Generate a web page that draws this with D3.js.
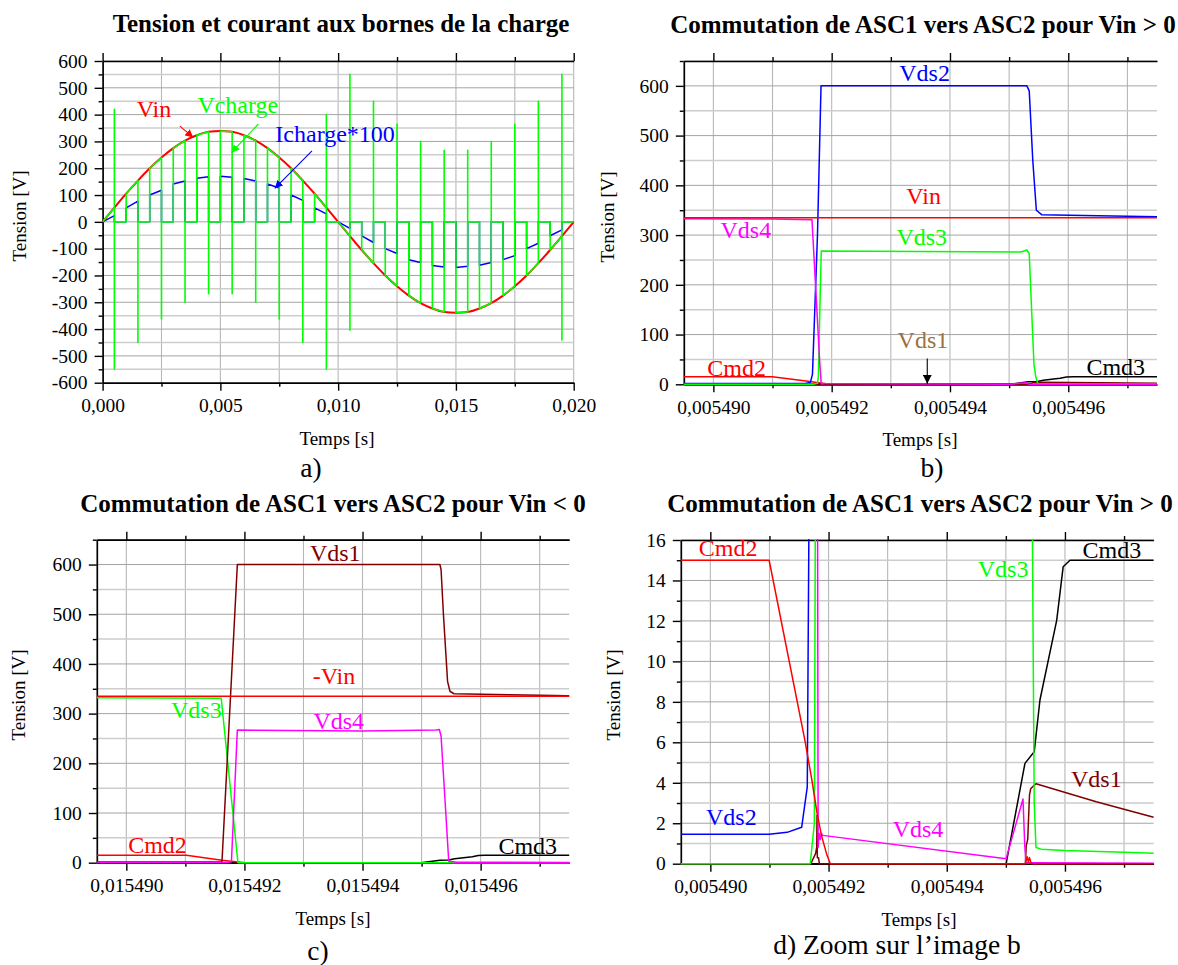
<!DOCTYPE html>
<html>
<head>
<meta charset="utf-8">
<script src="https://cdn.jsdelivr.net/npm/d3@7"></script>
<style>
  body { margin: 0; background: #fff; }
  svg text { font-family: "Liberation Serif", "Times New Roman", serif; }
</style>
</head>
<body>
<script>
// ---------- panel a : one mains period, time in ms ----------
var tA = [0, 0.5, 1, 1.5, 2, 2.5, 3, 3.5, 4, 4.5, 5, 5.5, 6, 6.5, 7, 7.5, 8, 8.5, 9, 9.5,
          10, 10.5, 11, 11.5, 12, 12.5, 13, 13.5, 14, 14.5, 15, 15.5, 16, 16.5, 17, 17.5, 18, 18.5, 19, 19.5, 20];
var vinA = [0, 53, 105, 154, 200, 240, 275, 303, 323, 336, 339, 336, 323, 303, 275, 240, 200, 154, 105, 53,
            0, -53, -105, -154, -200, -240, -275, -303, -323, -336, -339, -336, -323, -303, -275, -240, -200, -154, -105, -53, 0];
// load current*100 at start / end of every conduction interval
var iOnA  = [0, 52, 100, 141, 163, 170, 162, 141, 100, 52, 0, -52, -100, -141, -163, -170, -162, -141, -100, -52];
var iOffA = [23, 77, 118, 152, 168, 166, 152, 126, 80, 30, -24, -77, -118, -152, -168, -166, -152, -126, -80, -30];
// Vcharge overshoot at each turn-off (top / bottom of the spike)
var spikeHiA = [420, 154, 240, 303, 336, 336, 303, 240, 154, 400, 550, 450, 364, 300, 267, 267, 300, 364, 450, 550];
var spikeLoA = [-550, -450, -362, -300, -268, -268, -300, -362, -450, -550, -404, -154, -240, -303, -336, -336, -303, -240, -154, -441];

// ---------- panels b and d : commutation at t = 0,005490 s + t (µs) ----------
var baseBD = 0.005490;
var vinB_t  = [-0.5, 7.5];
var vinB_v  = [335, 335];
var vds2B_t = [-0.5, 0.995, 1.30, 1.545, 1.64, 1.675, 1.76, 1.82, 5.30, 5.34, 5.40, 5.46, 5.55, 6.5, 7.5];
var vds2B_v = [1.45, 1.45, 1.55, 1.8, 3.8, 20, 300, 600, 600, 590, 450, 350, 341, 339, 337];
var vds3B_t = [-0.5, 1.69, 1.76, 1.775, 1.80, 1.824, 3.5, 5.20, 5.30, 5.34, 5.38, 5.42, 5.45, 5.48, 5.51, 5.6, 6.0, 7.0, 7.5];
var vds3B_v = [0, 0, 2, 16, 150, 268, 267, 266, 270, 262, 150, 40, 16, 3, 0.8, 0.72, 0.65, 0.57, 0.52];
var vds4B_t = [-0.5, 1.0, 1.667, 1.80, 1.815, 1.824, 1.84, 1.86, 1.88, 1.90, 5.005, 5.29, 5.32, 5.34, 5.5, 7.5];
var vds4B_v = [333, 332.5, 331, 40, 16, 0.8, 1.5, 1.2, 1.5, 1.4, 0.25, 3.2, 0.9, 0.05, 0.05, 0.02];
var vds1B_t = [-0.5, 1.70, 1.78, 1.80, 1.805, 1.81, 1.83, 1.845, 5.33, 5.345, 5.37, 5.40, 5.42, 5.47, 5.51, 6.53, 7.5];
var vds1B_v = [0, 0, 0.5, 0.8, 2.4, 0.3, 0.3, 0, 0, 0.9, 1.2, 3.4, 3.7, 3.85, 3.95, 3.06, 2.3];
var cmd2B_t = [-0.5, 0.995, 1.60, 1.72, 1.80, 1.88, 1.97, 2.03, 5.33, 5.36, 5.38, 5.40, 5.43, 7.5];
var cmd2B_v = [15, 15, 6.1, 4.1, 2.6, 1.4, 0.45, 0, 0, 0.35, 0.1, 0.3, 0, 0];
var cmd3B_t = [-0.5, 5.005, 5.323, 5.48, 5.577, 5.861, 5.97, 6.085, 7.5];
var cmd3B_v = [0, 0, 4.96, 5.53, 8.09, 12.04, 14.68, 15, 15];

// ---------- panel c : commutation at t = 0,015490 s + t (µs) ----------
var baseC = 0.015490;
var vinC_t  = [-0.5, 7.5];
var vinC_v  = [335, 335];
var vds1C_t = [-0.5, 1.62, 1.88, 5.31, 5.33, 5.37, 5.44, 5.48, 5.55, 6.5, 7.5];
var vds1C_v = [1.5, 2, 600, 600, 590, 500, 365, 345, 340, 338, 336];
var vds4C_t = [-0.5, 1.70, 1.78, 1.88, 4.0, 5.25, 5.30, 5.33, 5.40, 5.46, 5.6, 7.5];
var vds4C_v = [0.5, 0.5, 2, 267, 265, 267, 268, 255, 120, 3, 1, 0.6];
var vds3C_t = [-0.5, 1.607, 1.89, 7.5];
var vds3C_v = [332, 331, 0, 0];
var cmd2C_t = [-0.5, 1.017, 1.62, 2.01, 7.5];
var cmd2C_v = [15, 15, 5, 0, 0];
var cmd3C_t = [-0.5, 4.99, 5.31, 5.46, 5.56, 5.86, 5.96, 6.07, 7.5];
var cmd3C_v = [0, 0, 4.9, 5.5, 8, 12, 14.7, 15, 15];

// tick labels
var ticksA_x = [0, 5, 10, 15, 20];
var ticksA_y = [-600, -500, -400, -300, -200, -100, 0, 100, 200, 300, 400, 500, 600];
var ticksB_x = [0, 2, 4, 6];
var ticksB_y = [0, 100, 200, 300, 400, 500, 600];
var ticksD_y = [0, 2, 4, 6, 8, 10, 12, 14, 16];

var RED = '#ff0000', GREEN = '#00ff00', BLUE = '#0000ff', MAG = '#ff00ff', MAROON = '#800000';

var svg = d3.select('body').append('svg').attr('width', 1178).attr('height', 965);
var defs = svg.append('defs');

function arrowMarker(id, color, size) {
   defs.append('marker')
      .attr('id', id)
      .attr('viewBox', '0 0 10 10')
      .attr('refX', 10).attr('refY', 5)
      .attr('markerWidth', size).attr('markerHeight', size)
      .attr('markerUnits', 'userSpaceOnUse')
      .attr('orient', 'auto')
      .append('path').attr('d', 'M0,0L10,5L0,10z').attr('fill', color);
}
arrowMarker('arRed', RED, 8);
arrowMarker('arGreen', GREEN, 8);
arrowMarker('arBlue', BLUE, 8);
arrowMarker('arBlack', '#000', 9);

function pairs(t, v) { return t.map(function (d, i) { return [d, v[i]]; }); }

var fmtComma = function (n) { return function (d) { return d.toFixed(n).replace('.', ','); }; };

var panelCount = 0;
function drawPanel(p) {
   var id = 'clip' + (panelCount++);
   var x = d3.scaleLinear().domain(p.xDomain).range([p.left, p.right]);
   var y = d3.scaleLinear().domain(p.yDomain).range([p.bottom, p.top]);
   var g = svg.append('g');

   defs.append('clipPath').attr('id', id).append('rect')
      .attr('x', p.left).attr('y', p.top - 1)
      .attr('width', p.right - p.left + 1).attr('height', p.bottom - p.top + 3);

   // grid
   g.append('g').selectAll('line').data(p.xGrid).join('line')
      .attr('x1', function (d) { return x(d); }).attr('x2', function (d) { return x(d); })
      .attr('y1', p.top).attr('y2', p.bottom)
      .attr('stroke', '#b8b8b8').attr('stroke-width', 1.1);
   g.append('g').selectAll('line').data(p.yGrid).join('line')
      .attr('x1', p.left).attr('x2', p.right)
      .attr('y1', function (d) { return y(d); }).attr('y2', function (d) { return y(d); })
      .attr('stroke', function (d) { return p.yMajor.indexOf(d) >= 0 ? '#a4a4a4' : '#cdcdcd'; })
      .attr('stroke-width', function (d) { return p.yMajor.indexOf(d) >= 0 ? 1 : 1.5; });

   // axes
   function styleAxis(sel) {
      sel.attr('font-size', 19.5).attr('font-family', '"Liberation Serif", "Times New Roman", serif');
      sel.selectAll('.domain').attr('stroke-width', 1.7);
      sel.selectAll('.tick line').attr('stroke-width', 1.4);
      sel.selectAll('.tick text').attr('fill', '#000');
   }
   g.append('g').attr('transform', 'translate(0,' + p.bottom + ')')
      .call(d3.axisBottom(x).tickValues(p.xMajor).tickFormat(p.xFmt).tickSize(8).tickSizeOuter(0).tickPadding(7.5))
      .call(styleAxis);
   g.append('g').attr('transform', 'translate(0,' + p.bottom + ')')
      .call(d3.axisBottom(x).tickValues(p.xMinor).tickFormat('').tickSize(4).tickSizeOuter(0))
      .call(styleAxis).select('.domain').remove();
   g.append('g').attr('transform', 'translate(0,' + p.top + ')')
      .call(d3.axisTop(x).tickValues(p.xMajor).tickFormat('').tickSize(8).tickSizeOuter(0))
      .call(styleAxis);
   g.append('g').attr('transform', 'translate(0,' + p.top + ')')
      .call(d3.axisTop(x).tickValues(p.xMinor).tickFormat('').tickSize(4).tickSizeOuter(0))
      .call(styleAxis).select('.domain').remove();
   g.append('g').attr('transform', 'translate(' + p.left + ',0)')
      .call(d3.axisLeft(y).tickValues(p.yMajor).tickFormat(function (d) { return String(d); }).tickSize(8).tickSizeOuter(0).tickPadding(7))
      .call(styleAxis);
   g.append('g').attr('transform', 'translate(' + p.left + ',0)')
      .call(d3.axisLeft(y).tickValues(p.yMinor).tickFormat('').tickSize(4).tickSizeOuter(0))
      .call(styleAxis).select('.domain').remove();

   // curves
   p.series.forEach(function (s) {
      var line = d3.line()
         .x(function (d) { return x(d[0]); })
         .y(function (d) { return y(d[1]); })
         .curve(s.curve || d3.curveLinear);
      g.append('path')
         .attr('clip-path', 'url(#' + id + ')')
         .attr('d', line(s.pts))
         .attr('fill', 'none')
         .attr('stroke', s.color)
         .attr('stroke-width', s.w || 1.5)
         .attr('stroke-linejoin', 'round');
   });

   // arrows
   (p.arrows || []).forEach(function (a) {
      g.append('line')
         .attr('x1', x(a.from[0])).attr('y1', y(a.from[1]))
         .attr('x2', x(a.to[0])).attr('y2', y(a.to[1]))
         .attr('stroke', a.color).attr('stroke-width', 1.1)
         .attr('marker-end', 'url(#' + a.marker + ')');
   });

   // curve names
   g.selectAll('text.lbl').data(p.labels).join('text')
      .attr('class', 'lbl')
      .attr('x', function (d) { return x(d.at[0]); })
      .attr('y', function (d) { return y(d.at[1]); })
      .attr('text-anchor', 'middle')
      .attr('font-size', 24)
      .attr('fill', function (d) { return d.color; })
      .text(function (d) { return d.text; });

   // title, axis names, caption
   g.append('text').attr('x', p.titleX).attr('y', p.titleY)
      .attr('text-anchor', 'middle').attr('font-size', 25).attr('font-weight', 'bold')
      .text(p.title);
   g.append('text').attr('x', p.xLabelX).attr('y', p.xLabelY)
      .attr('text-anchor', 'middle').attr('font-size', 19).text('Temps [s]');
   g.append('text')
      .attr('transform', 'translate(' + p.yLabelX + ',' + p.yLabelY + ') rotate(-90)')
      .attr('text-anchor', 'middle').attr('dy', '0.35em').attr('font-size', 19).text('Tension [V]');
   g.append('text').attr('x', p.capX).attr('y', p.capY)
      .attr('text-anchor', 'middle').attr('font-size', 27.5).text(p.caption);
}

// ---------- build panel a curves from the arrays ----------
var vchargePts = [], ichargePts = [];
iOnA.forEach(function (d, k) {
   vchargePts.push([tA[2 * k], vinA[2 * k]], [tA[2 * k + 1], vinA[2 * k + 1]],
                   [tA[2 * k + 1], spikeHiA[k]], [tA[2 * k + 1], spikeLoA[k]],
                   [tA[2 * k + 1], 0], [tA[2 * k + 2], 0]);
   ichargePts.push([tA[2 * k], iOnA[k]], [tA[2 * k + 1], iOffA[k]],
                   [tA[2 * k + 1], 0], [tA[2 * k + 2], 0]);
});

function range(a, b, s) { return d3.range(a, b + s / 2, s); }

drawPanel({
   left: 102.6, right: 573.7, top: 61, bottom: 382.7,
   xDomain: [0, 20], yDomain: [-600, 600],
   xMajor: ticksA_x, xMinor: [2.5, 7.5, 12.5, 17.5], xGrid: range(2.5, 20, 2.5),
   xFmt: function (d) { return fmtComma(3)(d / 1000); },
   yMajor: ticksA_y, yMinor: range(-550, 550, 100), yGrid: range(-550, 600, 50),
   series: [
      { pts: ichargePts, color: BLUE, w: 1.5 },
      { pts: pairs(tA, vinA), color: RED, w: 2, curve: d3.curveMonotoneX },
      { pts: vchargePts, color: GREEN, w: 1.6 }
   ],
   arrows: [
      { from: [3.28, 357], to: [3.85, 315], color: RED, marker: 'arRed' },
      { from: [6.61, 365], to: [5.47, 258], color: GREEN, marker: 'arGreen' },
      { from: [8.89, 265], to: [7.31, 125], color: BLUE, marker: 'arBlue' }
   ],
   labels: [
      { text: 'Vin', at: [2.18, 390], color: RED },
      { text: 'Vcharge', at: [5.74, 406], color: GREEN },
      { text: 'Icharge*100', at: [9.87, 299], color: BLUE }
   ],
   title: 'Tension et courant aux bornes de la charge', titleX: 341, titleY: 32,
   xLabelX: 337, xLabelY: 445, yLabelX: 19, yLabelY: 216,
   caption: 'a)', capX: 311, capY: 477
});

drawPanel({
   left: 683.8, right: 1157, top: 61, bottom: 384.3,
   xDomain: [-0.5, 7.5], yDomain: [0, 650],
   xMajor: ticksB_x, xMinor: [1, 3, 5, 7], xGrid: range(0, 7, 1),
   xFmt: function (d) { return fmtComma(6)(baseBD + d * 1e-6); },
   yMajor: ticksB_y, yMinor: range(50, 650, 100), yGrid: range(50, 650, 50),
   series: [
      { pts: pairs(cmd3B_t, cmd3B_v), color: '#000' },
      { pts: pairs(cmd2B_t, cmd2B_v), color: RED },
      { pts: pairs(vds1B_t, vds1B_v), color: MAROON },
      { pts: pairs(vds2B_t, vds2B_v), color: BLUE },
      { pts: pairs(vds3B_t, vds3B_v), color: GREEN },
      { pts: pairs(vds4B_t, vds4B_v), color: MAG },
      { pts: pairs(vinB_t, vinB_v), color: RED }
   ],
   arrows: [
      { from: [3.616, 52], to: [3.616, 1], color: '#000', marker: 'arBlack' }
   ],
   labels: [
      { text: 'Vds2', at: [3.57, 610], color: BLUE },
      { text: 'Vin', at: [3.555, 362], color: RED },
      { text: 'Vds4', at: [0.548, 295], color: MAG },
      { text: 'Vds3', at: [3.523, 280], color: GREEN },
      { text: 'Vds1', at: [3.543, 72], color: '#a0703c' },
      { text: 'Cmd2', at: [0.392, 17], color: RED },
      { text: 'Cmd3', at: [6.803, 19], color: '#000' }
   ],
   title: 'Commutation de ASC1 vers ASC2 pour Vin > 0', titleX: 923, titleY: 33,
   xLabelX: 920, xLabelY: 446, yLabelX: 607, yLabelY: 217,
   caption: 'b)', capX: 932, capY: 477
});

drawPanel({
   left: 96.8, right: 569.2, top: 539.7, bottom: 862.7,
   xDomain: [-0.5, 7.5], yDomain: [0, 650],
   xMajor: ticksB_x, xMinor: [1, 3, 5, 7], xGrid: range(0, 7, 1),
   xFmt: function (d) { return fmtComma(6)(baseC + d * 1e-6); },
   yMajor: ticksB_y, yMinor: range(50, 650, 100), yGrid: range(50, 650, 50),
   series: [
      { pts: pairs(cmd3C_t, cmd3C_v), color: '#000' },
      { pts: pairs(cmd2C_t, cmd2C_v), color: RED },
      { pts: pairs(vds3C_t, vds3C_v), color: GREEN },
      { pts: pairs(vds1C_t, vds1C_v), color: MAROON },
      { pts: pairs(vds4C_t, vds4C_v), color: MAG },
      { pts: pairs(vinC_t, vinC_v), color: RED }
   ],
   labels: [
      { text: 'Vds1', at: [3.538, 607], color: MAROON },
      { text: '-Vin', at: [3.517, 359], color: RED },
      { text: 'Vds3', at: [1.185, 292], color: GREEN },
      { text: 'Vds4', at: [3.597, 270], color: MAG },
      { text: 'Cmd2', at: [0.528, 19], color: RED },
      { text: 'Cmd3', at: [6.798, 17], color: '#000' }
   ],
   title: 'Commutation de ASC1 vers ASC2 pour Vin < 0', titleX: 333, titleY: 512,
   xLabelX: 333, xLabelY: 925, yLabelX: 18, yLabelY: 695,
   caption: 'c)', capX: 318, capY: 960
});

drawPanel({
   left: 680.8, right: 1153.6, top: 540, bottom: 863.7,
   xDomain: [-0.5, 7.5], yDomain: [0, 16],
   xMajor: ticksB_x, xMinor: [1, 3, 5, 7], xGrid: range(0, 7, 1),
   xFmt: function (d) { return fmtComma(6)(baseBD + d * 1e-6); },
   yMajor: ticksD_y, yMinor: range(1, 15, 2), yGrid: range(1, 16, 1),
   series: [
      { pts: pairs(cmd3B_t, cmd3B_v), color: '#000' },
      { pts: pairs(vds1B_t, vds1B_v), color: MAROON },
      { pts: pairs(vds2B_t, vds2B_v), color: BLUE },
      { pts: pairs(vds3B_t, vds3B_v), color: GREEN },
      { pts: pairs(vds4B_t, vds4B_v), color: MAG },
      { pts: pairs(cmd2B_t, cmd2B_v), color: RED }
   ],
   labels: [
      { text: 'Cmd2', at: [0.301, 15.21], color: RED },
      { text: 'Cmd3', at: [6.795, 15.10], color: '#000' },
      { text: 'Vds3', at: [4.954, 14.16], color: GREEN },
      { text: 'Vds2', at: [0.355, 1.91], color: BLUE },
      { text: 'Vds4', at: [3.513, 1.33], color: MAG },
      { text: 'Vds1', at: [6.531, 3.81], color: MAROON }
   ],
   title: 'Commutation de ASC1 vers ASC2 pour Vin > 0', titleX: 920, titleY: 512,
   xLabelX: 919, xLabelY: 926, yLabelX: 613, yLabelY: 695,
   caption: 'd) Zoom sur l\u2019image b', capX: 897, capY: 954
});
</script>
</body>
</html>
